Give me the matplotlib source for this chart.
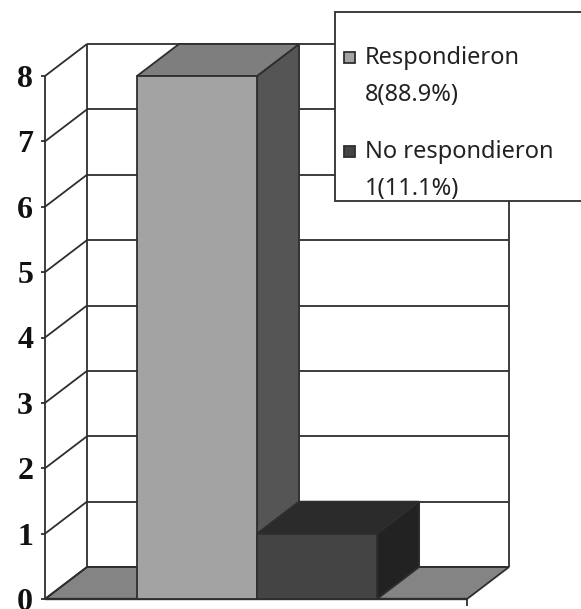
import matplotlib
matplotlib.use("Agg")
import matplotlib.pyplot as plt
from matplotlib.patches import Polygon, Rectangle

# data
series_names = ["Respondieron", "No respondieron"]
series_values = [8, 1]
series_labels = ["8(88.9%)", "1(11.1%)"]
y_ticks = [0, 1, 2, 3, 4, 5, 6, 7, 8]

W, H = 581, 609
LINE = "#2e2e2e"

fig = plt.figure(figsize=(W / 100, H / 100), dpi=100, facecolor="white")
ax = fig.add_axes([45 / W, (H - 599) / H, 422 / W, 523 / H])
ax.set_xlim(0, 1)
ax.set_ylim(0, 8)
ax.axis("off")

# 3d offset in data units
dx = 42 / 422
dy = 32 / 65.4
bar_w = 0.2845
bar_left = 0.218
lw = 1.3


def poly(pts, color, z, edge=LINE):
    ax.add_patch(Polygon(pts, closed=True, facecolor=color, edgecolor=edge, lw=lw, zorder=z,
                         clip_on=False, joinstyle="miter"))


def line(xs, ys, z=1, lw_=lw):
    ax.plot(xs, ys, color=LINE, lw=lw_, zorder=z, clip_on=False, solid_capstyle="butt")


# floor and walls
poly([(0, 0), (1, 0), (1 + dx, dy), (dx, dy)], "#848484", 1)
for v in y_ticks:
    line([0, dx], [v, v + dy])
    line([dx, 1 + dx], [v + dy, v + dy])
    line([-0.009, 0], [v, v])
line([0, 0], [0, 8])
line([dx, dx], [dy, 8 + dy])
line([1 + dx, 1 + dx], [dy, 8 + dy])
line([1, 1], [0, -0.1])
line([0, 1], [0, 0], z=2, lw_=lw + 0.4)

# bars
faces = [("#a3a3a3", "#7e7e7e", "#555555"), ("#444444", "#2b2b2b", "#222222")]
for i, v in enumerate(series_values):
    x0 = bar_left + i * bar_w
    x1 = x0 + bar_w
    front, top, side = faces[i]
    z = 5 + i
    poly([(x1, 0), (x1 + dx, dy), (x1 + dx, v + dy), (x1, v)], side, z)
    poly([(x0, v), (x1, v), (x1 + dx, v + dy), (x0 + dx, v + dy)], top, z)
    poly([(x0, 0), (x1, 0), (x1, v), (x0, v)], front, z + 0.5)

# y tick labels
for v in y_ticks:
    ax.text(-0.047, v, str(v), ha="center", va="center_baseline", fontsize=23, fontweight="bold",
            family="Liberation Serif", color="#111111", clip_on=False, zorder=8)

# legend box, runs off the right edge of the picture
fig.add_artist(Rectangle((335 / W, (H - 201) / H), 260 / W, 189 / H, transform=fig.transFigure,
                         facecolor="white", edgecolor=LINE, lw=lw, zorder=10))
leg_y = [57, 151]
for i, name in enumerate(series_names):
    fig.add_artist(Rectangle((344 / W, (H - leg_y[i] - 5.5) / H), 11 / W, 11 / H, transform=fig.transFigure,
                             facecolor=faces[i][0], edgecolor=LINE, lw=lw, zorder=11))
    fig.text(365 / W, (H - leg_y[i] - 1.5) / H, name, fontsize=17, family="Noto Sans", color="#222222",
             va="center", ha="left", zorder=11)
    fig.text(365 / W, (H - leg_y[i] - 38) / H, series_labels[i], fontsize=17, family="Noto Sans",
             color="#222222", va="center", ha="left", zorder=11)

fig.savefig("out.png", dpi=100)
